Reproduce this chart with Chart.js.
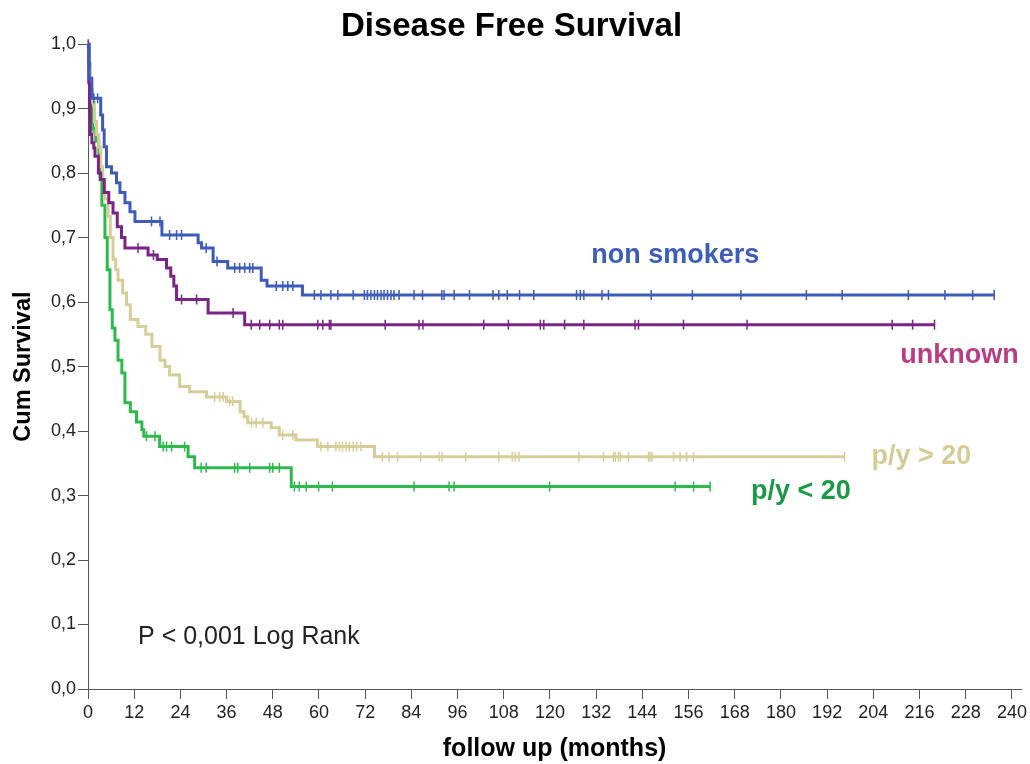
<!DOCTYPE html>
<html>
<head>
<meta charset="utf-8">
<script src="https://cdn.jsdelivr.net/npm/chart.js@4.4.0/dist/chart.umd.min.js"></script>
<style>
  html, body { margin: 0; padding: 0; background: #fff; }
  #graph { width: 1030px; height: 764px; }
</style>
</head>
<body>
<div id="graph"><canvas id="myGraph" width="1030" height="764"></canvas></div>
<script>
// groups
const groupNames = ['non smokers', 'unknown', 'p/y > 20', 'p/y < 20'];

// non smokers: drop times (months) and survival after the drop
const nonSmokersTimes = [0.3, 1, 3.3, 3.8, 4.2, 4.8, 6.1, 7.4, 8.3, 9.6, 10.9, 12.2, 19.2, 28.6, 29.5, 32.5, 36.3, 45, 46.5, 55.7];
const nonSmokersSurv = [0.947, 0.916, 0.89, 0.867, 0.841, 0.81, 0.8, 0.785, 0.77, 0.754, 0.74, 0.725, 0.704, 0.692, 0.684, 0.663, 0.653, 0.634, 0.625, 0.611];
const nonSmokersCensored = [1.5, 2.5, 16.5, 18.7, 21.2, 23, 24.3, 30.7, 33.5, 38.1, 39.4, 40.7, 42, 42.8, 48.9, 50.6, 51.9, 53.2,
  58.8, 60.5, 63.1, 64.9, 68.9, 71.8, 72.6, 73.5, 74.4, 75.2, 76.1, 76.9, 77.8, 78.7, 79.5, 80.8, 84.7, 86.9, 91.9, 92.5, 95.1,
  99.1, 105.2, 106.7, 108.9, 112.1, 115.8, 126.9, 127.9, 128.8, 133.5, 135.2, 146.3, 157, 169.6, 186.6, 195.9, 213.1, 222.6, 229.8, 235.4];

// unknown
const unknownTimes = [0.2, 0.4, 0.6, 1, 1.5, 1.8, 2.7, 3.3, 4.2, 5.4, 6.5, 7.6, 8.7, 9.6, 15.6, 18, 20.4, 21.5, 22.3, 23, 31.2, 40.7];
const unknownSurv = [0.94, 0.903, 0.86, 0.847, 0.839, 0.826, 0.8, 0.79, 0.77, 0.754, 0.738, 0.717, 0.7, 0.684, 0.673, 0.666, 0.653, 0.64, 0.625, 0.604, 0.583, 0.565];
const unknownCensored = [0.05, 13, 17, 24.3, 28.2, 37.7, 42.4, 44.6, 47.2, 49.7, 50.6, 59.7, 61, 62.7, 63.1, 77.2, 86, 87,
  102.8, 109.2, 117.5, 118.4, 123.8, 128.8, 142.1, 143, 154.7, 171.2, 208.9, 214.2, 219.9];

// p/y > 20
const heavyTimes = [0.2, 0.6, 1.2, 1.7, 2.2, 2.8, 3.3, 3.8, 4.4, 5.2, 5.8, 6.5, 7.2, 7.8, 9, 10, 11, 13, 15, 16.6, 18.7, 20,
  21.2, 23.8, 26.4, 30.8, 36, 39.5, 40.5, 41.5, 47.6, 49.7, 54, 59.6, 74.4];
const heavySurv = [0.96, 0.93, 0.91, 0.88, 0.86, 0.84, 0.81, 0.79, 0.76, 0.733, 0.7, 0.666, 0.65, 0.634, 0.614, 0.596, 0.573,
  0.562, 0.55, 0.531, 0.51, 0.5, 0.487, 0.469, 0.461, 0.453, 0.446, 0.43, 0.422, 0.413, 0.405, 0.394, 0.386, 0.376, 0.36];
const heavyCensored = [3, 32.9, 34.2, 35.1, 36.8, 37.6, 42.5, 43.7, 45.4, 50.6, 53.2, 60.5, 62.3, 64.4, 65.3, 66.1, 67, 67.9,
  68.9, 69.8, 70.9, 76.5, 78.2, 80.4, 86.4, 91.2, 92, 98.1, 106.7, 110.2, 111, 111.9, 127.5, 133.9, 136.5, 137, 137.8, 138.3,
  140.4, 145.6, 146, 146.5, 152.1, 153.8, 155.5, 157.3, 196.5];

// p/y < 20
const lightTimes = [0.2, 0.5, 0.8, 1.2, 2, 2.8, 3.1, 3.6, 4.4, 5, 5.7, 6.3, 7, 7.8, 8.8, 9.6, 11, 12.6, 14, 14.5, 18.6, 26, 27.7, 52.8];
const lightSurv = [0.97, 0.93, 0.9, 0.87, 0.85, 0.83, 0.79, 0.75, 0.7, 0.65, 0.588, 0.56, 0.541, 0.51, 0.49, 0.444, 0.43,
  0.414, 0.402, 0.392, 0.376, 0.36, 0.343, 0.314];
const lightCensored = [1.3, 3.0, 15.2, 17.4, 19.5, 20.4, 21.7, 25.1, 29.4, 30.7, 38.1, 38.9, 42, 47.2, 48, 49.7, 53.6, 54.9,
  56.7, 59.9, 63.5, 84.7, 93.8, 95.1, 119.9, 152.5, 157.3, 161.6];

const lineColors = ['rgb(61, 91, 184)', 'rgb(122, 36, 132)', 'rgb(214, 206, 152)', 'rgb(45, 186, 76)'];
const labelColors = ['rgb(62, 92, 184)', 'rgb(184, 62, 132)', 'rgb(212, 204, 150)', 'rgb(28, 152, 72)'];
// label anchors in data units (month, survival)
const labelAt = [[130.7, 0.672], [211, 0.517], [203.5, 0.36], [172.2, 0.306]];
const noteText = 'P < 0,001 Log Rank';
const noteAt = [13, 0.081];

function survivalAt(times, surv, t) {
  let s = 1;
  for (let i = 0; i < times.length; i++) {
    if (times[i] <= t) s = surv[i];
  }
  return s;
}

function stepPoints(times, surv, censored) {
  const end = Math.max(...censored, ...times);
  const pts = [{x: 0, y: 1}];
  for (let i = 0; i < times.length; i++) pts.push({x: times[i], y: surv[i]});
  pts.push({x: end, y: survivalAt(times, surv, end)});
  return pts;
}

function censorPoints(times, surv, censored) {
  return censored.map(t => ({x: t, y: survivalAt(times, surv, t)}));
}

const groups = [
  [nonSmokersTimes, nonSmokersSurv, nonSmokersCensored],
  [unknownTimes, unknownSurv, unknownCensored],
  [heavyTimes, heavySurv, heavyCensored],
  [lightTimes, lightSurv, lightCensored],
];

const datasets = [];
groups.forEach((g, i) => {
  datasets.push({
    label: groupNames[i],
    data: stepPoints(g[0], g[1], g[2]),
    stepped: true,
    borderColor: lineColors[i],
    borderWidth: 3,
    pointRadius: 0,
    fill: false,
    clip: false,
  });
  datasets.push({
    label: groupNames[i] + ' censored',
    data: censorPoints(g[0], g[1], g[2]),
    showLine: false,
    pointStyle: 'line',
    rotation: 90,
    pointRadius: 5,
    pointBorderWidth: 1.5,
    pointBorderColor: lineColors[i],
    borderColor: lineColors[i],
    clip: false,
  });
});

const labelPlugin = {
  id: 'groupLabels',
  afterDatasetsDraw(chart) {
    const {ctx, scales: {x, y}} = chart;
    ctx.save();
    ctx.textBaseline = 'middle';
    ctx.textAlign = 'left';
    ctx.font = 'bold 27px "Liberation Sans", Arial, sans-serif';
    groupNames.forEach((name, i) => {
      ctx.fillStyle = labelColors[i];
      ctx.fillText(name, x.getPixelForValue(labelAt[i][0]), y.getPixelForValue(labelAt[i][1]));
    });
    ctx.font = '25px "Liberation Sans", Arial, sans-serif';
    ctx.fillStyle = '#222';
    ctx.fillText(noteText, x.getPixelForValue(noteAt[0]), y.getPixelForValue(noteAt[1]));
    ctx.restore();
  }
};

const ctx = document.getElementById('myGraph').getContext('2d');
let kmChart = new Chart(ctx, {
  type: 'line',
  data: { datasets: datasets },
  plugins: [labelPlugin],
  options: {
    responsive: false,
    animation: false,
    devicePixelRatio: 1,
    layout: { padding: { left: 0, right: 7, top: 0, bottom: 0 } },
    plugins: {
      legend: { display: false },
      tooltip: { enabled: false },
      title: {
        display: true,
        text: 'Disease Free Survival',
        color: '#000',
        font: { family: '"Liberation Sans", Arial, sans-serif', size: 33, weight: 'bold', lineHeight: 1.05 },
        padding: { top: 9.5, bottom: 0 },
      },
    },
    scales: {
      x: {
        type: 'linear',
        min: 0,
        max: 242.4,
        afterFit(scale) { scale.height = 75; },
        ticks: {
          stepSize: 12,
          includeBounds: false,
          autoSkip: false,
          maxRotation: 0,
          padding: 3,
          color: '#222',
          font: { family: '"Liberation Sans", Arial, sans-serif', size: 18 },
        },
        grid: { drawOnChartArea: false, tickLength: 10, color: '#555', lineWidth: 1 },
        border: { color: '#555', width: 1 },
        title: {
          display: true,
          text: 'follow up (months)',
          color: '#000',
          font: { family: '"Liberation Sans", Arial, sans-serif', size: 25, weight: 'bold', lineHeight: 1.2 },
          padding: { top: 0, bottom: 0 },
        },
      },
      y: {
        min: 0,
        max: 1,
        afterFit(scale) { scale.width = 88; },
        ticks: {
          stepSize: 0.1,
          padding: 2,
          color: '#222',
          font: { family: '"Liberation Sans", Arial, sans-serif', size: 18 },
          callback: v => v.toFixed(1).replace('.', ','),
        },
        grid: { drawOnChartArea: false, tickLength: 10, color: '#555', lineWidth: 1 },
        border: { color: '#555', width: 1 },
        title: {
          display: true,
          text: 'Cum Survival',
          color: '#000',
          font: { family: '"Liberation Sans", Arial, sans-serif', size: 23.5, weight: 'bold', lineHeight: 1.2 },
          padding: { top: 9, bottom: 0 },
        },
      },
    },
  },
});
</script>
</body>
</html>
